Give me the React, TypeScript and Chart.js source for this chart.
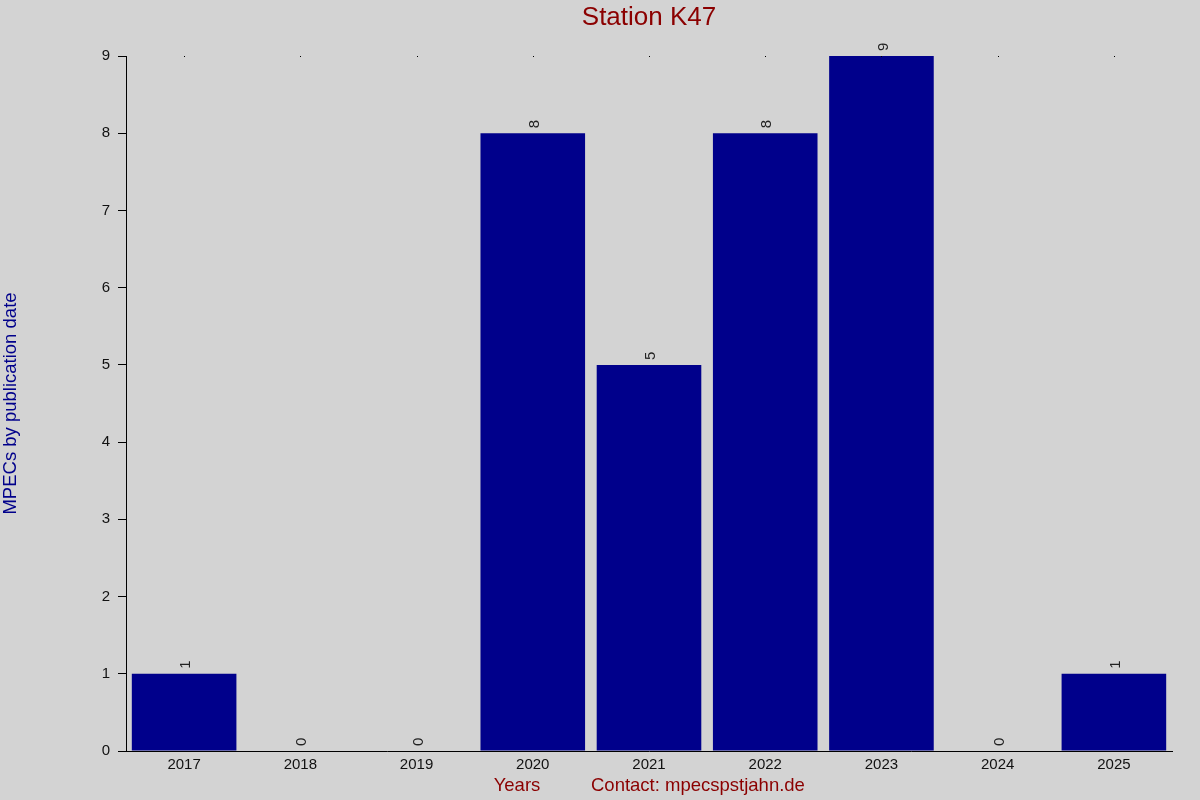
import { useEffect, useRef } from "react";
import { Chart, registerables } from "chart.js";

Chart.register(...registerables);

const years = ["2017", "2018", "2019", "2020", "2021", "2022", "2023", "2024", "2025"];
const mpecCounts = [1, 0, 0, 8, 5, 8, 9, 0, 1];
const yTicks = [0, 1, 2, 3, 4, 5, 6, 7, 8, 9];

const chartTitle = "Station K47";
const yTitle = "MPECs by publication date";
const xTitle = "Years";
const contactText = "Contact: mpecspstjahn.de";

const FONT = "'Liberation Sans', Arial, sans-serif";
const BG = "#D3D3D3";
const BAR = "#00008B";
const RED = "#8B0000";

const decorations = {
  id: "decorations",
  beforeDraw(chart: Chart) {
    const { ctx, width, height } = chart;
    ctx.save();
    ctx.fillStyle = BG;
    ctx.fillRect(0, 0, width, height);
    ctx.restore();
  },
  afterDraw(chart: Chart) {
    const { ctx, chartArea } = chart;
    const xs = chart.scales.x;
    const ys = chart.scales.y;
    const cx = (chartArea.left + chartArea.right) / 2;
    const cy = (chartArea.top + chartArea.bottom) / 2;
    ctx.save();

    // title
    ctx.fillStyle = RED;
    ctx.font = `26px ${FONT}`;
    ctx.textAlign = "center";
    ctx.textBaseline = "middle";
    ctx.fillText(chartTitle, cx, 18);

    // y title
    ctx.save();
    ctx.translate(11, cy);
    ctx.rotate(-Math.PI / 2);
    ctx.fillStyle = BAR;
    ctx.font = `18.5px ${FONT}`;
    ctx.fillText(yTitle, 0, 0);
    ctx.restore();

    // bottom texts
    ctx.fillStyle = RED;
    ctx.font = `18.5px ${FONT}`;
    ctx.textAlign = "center";
    ctx.fillText(xTitle, 517, 786);
    ctx.textAlign = "left";
    ctx.fillText(contactText, 591, 786);

    // top dots at category centres
    ctx.fillStyle = "#000";
    years.forEach((_, i) => {
      const x = Math.round(xs.getPixelForValue(i));
      ctx.fillRect(x, chartArea.top, 1, 1);
    });

    // value labels, rotated
    ctx.fillStyle = "#222";
    ctx.font = `15px ${FONT}`;
    ctx.textAlign = "left";
    ctx.textBaseline = "middle";
    mpecCounts.forEach((v, i) => {
      const x = xs.getPixelForValue(i) + 2;
      const y = ys.getPixelForValue(v) - 5;
      ctx.save();
      ctx.translate(x, y);
      ctx.rotate(-Math.PI / 2);
      ctx.fillText(String(v), 0, 0);
      ctx.restore();
    });
    ctx.restore();
  },
};

export default function App() {
  const ref = useRef<HTMLCanvasElement>(null);

  useEffect(() => {
    document.body.style.margin = "0";
    if (!ref.current) return;
    const chart = new Chart(ref.current, {
      type: "bar",
      data: {
        labels: years,
        datasets: [
          {
            label: "MPECs",
            data: mpecCounts,
            backgroundColor: BAR,
            borderWidth: 0,
            barPercentage: 0.9,
            categoryPercentage: 1,
          },
        ],
      },
      options: {
        responsive: false,
        animation: false,
        devicePixelRatio: 1,
        layout: { padding: { top: 56, right: 28, bottom: 0, left: 0 } },
        plugins: {
          legend: { display: false },
          tooltip: { enabled: false },
          title: { display: false },
        },
        scales: {
          x: {
            grid: { display: false, drawTicks: false },
            border: { display: true, color: "#000", width: 1 },
            ticks: {
              color: "#111",
              font: { family: FONT, size: 15 },
              padding: 5,
              maxRotation: 0,
            },
            afterFit: (s: any) => { s.height = 49; },
          },
          y: {
            min: 0,
            max: 9,
            afterBuildTicks: (s: any) => { s.ticks = yTicks.map((v) => ({ value: v })); },
            grid: { drawOnChartArea: false, drawTicks: true, tickLength: 8, color: "#000" },
            border: { display: true, color: "#000", width: 1 },
            ticks: {
              color: "#111",
              font: { family: FONT, size: 15 },
              padding: 8,
            },
            afterFit: (s: any) => { s.width = 126; },
          },
        },
      },
      plugins: [decorations],
    });
    return () => chart.destroy();
  }, []);

  return (
    <div style={{ width: 1200, height: 800 }}>
      <canvas ref={ref} width={1200} height={800} />
    </div>
  );
}
